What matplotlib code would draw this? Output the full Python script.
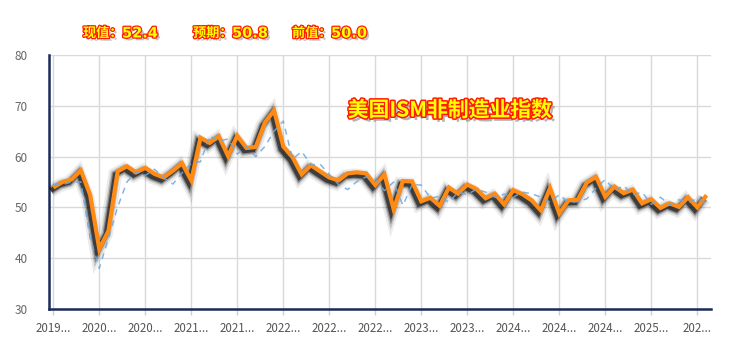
import matplotlib
matplotlib.use("Agg")
import matplotlib.pyplot as plt
from matplotlib import patheffects as pe
import pandas as pd

plt.rcParams['font.family'] = ['Noto Sans CJK SC', 'DejaVu Sans']

# Categories: monthly, Nov 2019 .. Oct 2025
months = [str(p) for p in pd.period_range('2019-11', '2025-10', freq='M')]

actual = [53.9, 55.0, 55.5, 57.3, 52.5, 41.8, 45.4, 57.1, 58.1, 56.9, 57.8, 56.6,
          55.9, 57.2, 58.7, 55.3, 63.7, 62.7, 64.0, 60.1, 64.1, 61.7, 61.9, 66.7,
          69.1, 62.0, 59.9, 56.5, 58.3, 57.1, 55.9, 55.3, 56.7, 56.9, 56.7, 54.4,
          56.5, 49.6, 55.2, 55.1, 51.2, 51.9, 50.3, 53.9, 52.7, 54.5, 53.6, 51.8,
          52.7, 50.6, 53.4, 52.6, 51.4, 49.4, 53.8, 48.8, 51.4, 51.5, 54.9, 56.0,
          52.1, 54.1, 52.8, 53.5, 50.8, 51.6, 49.9, 50.8, 50.1, 52.0, 50.0, 52.4]

forecast = [54.5, 54.5, 55.0, 55.0, 44.0, 38.0, 44.0, 50.1, 55.0, 57.0, 56.3, 57.5,
            55.8, 54.6, 56.8, 58.7, 59.0, 64.1, 63.0, 63.5, 60.5, 62.0, 60.0, 62.0,
            65.0, 67.0, 59.5, 61.0, 58.4, 58.5, 56.5, 54.5, 53.5, 55.1, 56.0, 55.5,
            53.3, 55.0, 50.4, 54.5, 54.4, 51.8, 52.2, 51.0, 53.0, 52.5, 53.6, 53.0,
            52.0, 52.6, 52.0, 53.0, 52.7, 52.0, 51.0, 52.5, 51.0, 51.1, 51.7, 53.8,
            55.5, 53.3, 54.3, 52.5, 53.0, 50.6, 52.0, 50.5, 51.5, 51.0, 51.7, 50.8]

tick_labels = ['2019...', '2020...', '2020...', '2021...', '2021...', '2022...',
               '2022...', '2022...', '2023...', '2023...', '2024...', '2024...',
               '2024...', '2025...', '202...']
tick_every = 5

title = '美国ISM非制造业指数'

W, H = 739, 346
fig = plt.figure(figsize=(W / 100, H / 100), dpi=100)
ax = fig.add_axes([48.7 / W, 1 - 309 / H, (711.1 - 48.7) / W, (309 - 55) / H])

x = list(range(len(months)))

# grid
ax.set_axisbelow(True)
ax.grid(True, color='#d9d9d9', linewidth=1.0)

# shadowed orange line
off = (-1.8, -2.2)
shadow_fx = [pe.SimpleLineShadow(offset=off, shadow_color='black', alpha=0.08, linewidth=10),
             pe.SimpleLineShadow(offset=off, shadow_color='black', alpha=0.16, linewidth=7),
             pe.SimpleLineShadow(offset=off, shadow_color='black', alpha=0.3, linewidth=5),
             pe.SimpleLineShadow(offset=off, shadow_color='black', alpha=0.55, linewidth=3.2),
             pe.Normal()]
ax.plot(x, actual, color='#ff8a14', linewidth=3.0, solid_joinstyle='miter',
        solid_capstyle='butt', path_effects=shadow_fx, zorder=3)
ax.plot(x, forecast, color='#6fa8dc', linewidth=1.1, linestyle=(0, (4, 3.5)),
        alpha=0.85, zorder=4)

ax.set_xlim(-0.5, len(months) - 0.5)
ax.set_ylim(30, 80)
ax.set_yticks([30, 40, 50, 60, 70, 80])
ticks = x[::tick_every]
ax.set_xticks(ticks)
ax.set_xticklabels(tick_labels)

for s in ['top', 'right']:
    ax.spines[s].set_visible(False)
for s in ['left', 'bottom']:
    ax.spines[s].set_color('#1c2a5a')
    ax.spines[s].set_linewidth(1.8)

ax.tick_params(axis='y', length=0, pad=15, labelsize=8.5, labelcolor='#666666')
ax.tick_params(axis='x', length=4, width=1, color='#c8d0dc', pad=5,
               labelsize=8.3, labelcolor='#555555')

text_fx = [pe.SimplePatchShadow(offset=(2.5, -2.5), shadow_rgbFace='#777777', alpha=0.55),
           pe.Stroke(linewidth=2.2, foreground='#ff1a00'),
           pe.Normal()]

fig.text(450 / W, 1 - 110 / H, title, ha='center', va='center', fontsize=15,
         fontweight='bold', color='#ffff00', path_effects=text_fx,
         family=['Noto Sans CJK SC', 'DejaVu Sans'])

hdr_fx = [pe.SimplePatchShadow(offset=(2, -2), shadow_rgbFace='#888888', alpha=0.5),
          pe.Stroke(linewidth=1.8, foreground='#ff1a00'),
          pe.Normal()]
header = [(83, '现值：', f'{actual[-1]:.1f}'),
          (193, '预期：', f'{forecast[-1]:.1f}'),
          (292, '前值：', f'{actual[-2]:.1f}')]
for px, lab, val in header:
    fig.text(px / W, 1 - 33 / H, lab, ha='left', va='center', fontsize=9.5,
             fontweight='bold', color='#ffff00', path_effects=hdr_fx,
             family=['Noto Sans CJK SC', 'DejaVu Sans'])
    fig.text((px + 39) / W, 1 - 33 / H, val, ha='left', va='center', fontsize=10.5,
             fontweight='bold', color='#ffff00', path_effects=hdr_fx,
             family=['DejaVu Sans', 'Noto Sans CJK SC'])

fig.savefig('out.png', dpi=100)
